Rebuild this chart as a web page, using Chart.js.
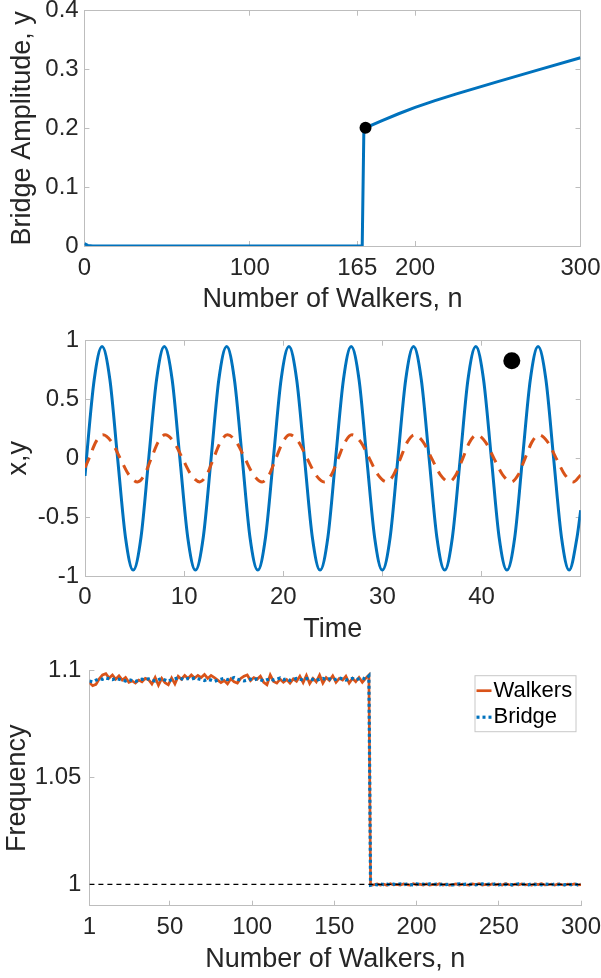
<!DOCTYPE html>
<html>
<head>
<meta charset="utf-8">
<script src="https://cdn.jsdelivr.net/npm/chart.js@4.4.0/dist/chart.umd.min.js"></script>
<style>
  body { margin: 0; background: #fff; }
  canvas { position: absolute; left: 0; }
</style>
</head>
<body>
<canvas id="amplitude" width="601" height="326" style="top:0px"></canvas>
<canvas id="timeseries" width="601" height="326" style="top:326px"></canvas>
<canvas id="frequency" width="601" height="326" style="top:652px"></canvas>
<script>
// ---- top panel: bridge amplitude vs number of walkers ----
const ampN = [0, 2, 5, 168, 169, 170, 180, 190, 200, 212, 225, 250, 275, 300]
const ampY = [0.004, 0.001, 0, 0, 0.198, 0.201, 0.2132, 0.2248, 0.2356, 0.2470, 0.2585, 0.2795, 0.2998, 0.320]
const ampMarkN = [170]
const ampMarkY = [0.201]
const ampTicksX = [0, 100, 165, 200, 300]
const ampTicksY = [0, 0.1, 0.2, 0.3, 0.4]

// ---- middle panel: x (solid) and y (dashed) against time ----
const xTime = [0, 0.15, 0.93, 1.72, 2.51, 3.29, 4.08, 4.86, 5.65, 6.43, 7.22,
  8.00, 8.79, 9.57, 10.36, 11.14, 11.93, 12.72, 13.50,
  14.29, 15.07, 15.86, 16.64, 17.43, 18.21, 19.00, 19.78,
  20.57, 21.35, 22.14, 22.93, 23.71, 24.50, 25.28, 26.07,
  26.85, 27.64, 28.42, 29.21, 29.99, 30.78, 31.56, 32.35,
  33.14, 33.92, 34.71, 35.49, 36.28, 37.06, 37.85, 38.63,
  39.42, 40.20, 40.99, 41.77, 42.56, 43.35, 44.13, 44.92,
  45.70, 46.49, 47.27, 48.06, 48.84, 49.63, 50]
const xVals = [-0.15, 0, 0.67, 0.95, 0.67, 0, -0.67, -0.95, -0.67, 0, 0.67,
  0.95, 0.67, 0, -0.67, -0.95, -0.67, 0, 0.67,
  0.95, 0.67, 0, -0.67, -0.95, -0.67, 0, 0.67,
  0.95, 0.67, 0, -0.67, -0.95, -0.67, 0, 0.67,
  0.95, 0.67, 0, -0.67, -0.95, -0.67, 0, 0.67,
  0.95, 0.67, 0, -0.67, -0.95, -0.67, 0, 0.67,
  0.95, 0.67, 0, -0.67, -0.95, -0.67, 0, 0.67,
  0.95, 0.67, 0, -0.67, -0.95, -0.67, -0.44]
const yTime = [0, 0.41, 1.10,
  1.80, 2.68, 3.55, 4.43, 5.30, 6.00, 6.69, 7.39,
  8.08, 8.96, 9.83, 10.71, 11.58, 12.28, 12.97, 13.67,
  14.37, 15.25, 16.12, 17.00, 17.87, 18.57, 19.26, 19.96,
  20.65, 21.53, 22.40, 23.28, 24.15, 24.85, 25.54, 26.24,
  26.93, 27.81, 28.68, 29.56, 30.43, 31.13, 31.82, 32.52,
  33.22, 34.10, 34.97, 35.85, 36.72, 37.42, 38.11, 38.81,
  39.50, 40.38, 41.25, 42.13, 43.00, 43.70, 44.39, 45.09,
  45.78, 46.66, 47.53, 48.41, 49.28, 50]
const yVals = [-0.08, 0, 0.14,
  0.20, 0.14, 0, -0.14, -0.20, -0.14, 0, 0.14,
  0.20, 0.14, 0, -0.14, -0.20, -0.14, 0, 0.14,
  0.20, 0.14, 0, -0.14, -0.20, -0.14, 0, 0.14,
  0.20, 0.14, 0, -0.14, -0.20, -0.14, 0, 0.14,
  0.20, 0.14, 0, -0.14, -0.20, -0.14, 0, 0.14,
  0.20, 0.14, 0, -0.14, -0.20, -0.14, 0, 0.14,
  0.20, 0.14, 0, -0.14, -0.20, -0.14, 0, 0.14,
  0.20, 0.14, 0, -0.14, -0.20, -0.14]
const tsMarkT = [43.05]
const tsMarkV = [0.83]
const tsTicksX = [0, 10, 20, 30, 40]
const tsTicksY = [-1, -0.5, 0, 0.5, 1]

// ---- bottom panel: frequency of walkers and bridge ----
const nHigh = [1, 3, 5, 7, 9, 11, 13, 15, 17, 19,
  21, 23, 25, 27, 29, 31, 33, 35, 37, 39,
  41, 43, 45, 47, 49, 51, 53, 55, 57, 59,
  61, 63, 65, 67, 69, 71, 73, 75, 77, 79,
  81, 83, 85, 87, 89, 91, 93, 95, 97, 99,
  101, 103, 105, 107, 109, 111, 113, 115, 117, 119,
  121, 123, 125, 127, 129, 131, 133, 135, 137, 139,
  141, 143, 145, 147, 149, 151, 153, 155, 157, 159,
  161, 163, 165, 167, 169, 171]
const nLow = [172, 174, 176, 178, 180, 182, 184, 186, 188, 190,
  192, 194, 196, 198, 200, 202, 204, 206, 208, 210,
  212, 214, 216, 218, 220, 222, 224, 226, 228, 230,
  232, 234, 236, 238, 240, 242, 244, 246, 248, 250,
  252, 254, 256, 258, 260, 262, 264, 266, 268, 270,
  272, 274, 276, 278, 280, 282, 284, 286, 288, 290,
  292, 294, 296, 298, 300]
const walkHigh = [1.0944, 1.0930, 1.0936, 1.0962, 1.0980, 1.0986, 1.0966, 1.0980, 1.0960, 1.0976,
  1.0956, 1.0968, 1.0946, 1.0952, 1.0942, 1.0956, 1.0948, 1.0964, 1.0958, 1.0938,
  1.0968, 1.0932, 1.0964, 1.0944, 1.0934, 1.0966, 1.0938, 1.0974, 1.0960, 1.0978,
  1.0964, 1.0980, 1.0966, 1.0978, 1.0968, 1.0982, 1.0964, 1.0978, 1.0968, 1.0956,
  1.0944, 1.0954, 1.0938, 1.0962, 1.0948, 1.0942, 1.0964, 1.0974, 1.0980, 1.0954,
  1.0968, 1.0960, 1.0974, 1.0946, 1.0934, 1.0980, 1.0950, 1.0942, 1.0960, 1.0946,
  1.0958, 1.0942, 1.0962, 1.0950, 1.0974, 1.0944, 1.0978, 1.0940, 1.0964, 1.0948,
  1.0980, 1.0942, 1.0968, 1.0954, 1.0976, 1.0946, 1.0964, 1.0956, 1.0974, 1.0942,
  1.0964, 1.0948, 1.0968, 1.0946, 1.0964, 1.0980]
const walkLow = [0.9995, 0.9998, 1.0002, 0.9997, 1.0001, 0.9996, 1.0003, 0.9998, 1.0000, 0.9996,
  1.0002, 0.9999, 0.9996, 1.0003, 0.9998, 1.0001, 0.9997, 1.0002, 0.9996, 1.0000,
  0.9998, 1.0003, 0.9997, 1.0001, 0.9996, 0.9999, 1.0002, 0.9997, 1.0001, 0.9998,
  0.9996, 1.0002, 0.9999, 1.0003, 0.9997, 1.0000, 0.9996, 1.0002, 0.9998, 1.0001,
  0.9997, 1.0003, 0.9999, 0.9996, 1.0001, 0.9998, 1.0002, 0.9997, 1.0000, 0.9996,
  1.0002, 0.9999, 1.0003, 0.9997, 0.9998, 1.0001, 0.9996, 1.0002, 0.9999, 0.9997,
  1.0001, 0.9998, 1.0002, 0.9997, 0.9999]
const bridgeHigh = [1.0952, 1.0948, 1.0956, 1.0962, 1.0960, 1.0966, 1.0962, 1.0958, 1.0964, 1.0960,
  1.0956, 1.0952, 1.0958, 1.0954, 1.0950, 1.0956, 1.0960, 1.0958, 1.0962, 1.0956,
  1.0952, 1.0958, 1.0964, 1.0956, 1.0950, 1.0958, 1.0962, 1.0966, 1.0962, 1.0958,
  1.0964, 1.0960, 1.0966, 1.0962, 1.0958, 1.0954, 1.0960, 1.0956, 1.0950, 1.0956,
  1.0960, 1.0964, 1.0958, 1.0962, 1.0968, 1.0960, 1.0956, 1.0952, 1.0956, 1.0960,
  1.0956, 1.0962, 1.0958, 1.0952, 1.0958, 1.0962, 1.0956, 1.0960, 1.0966, 1.0958,
  1.0962, 1.0954, 1.0958, 1.0964, 1.0960, 1.0956, 1.0962, 1.0966, 1.0958, 1.0954,
  1.0960, 1.0964, 1.0958, 1.0962, 1.0956, 1.0960, 1.0966, 1.0962, 1.0956, 1.0960,
  1.0964, 1.0958, 1.0962, 1.0966, 1.0960, 1.0976]
const bridgeLow = [0.9996, 1.0000, 0.9998, 1.0002, 0.9999, 1.0001, 0.9997, 1.0001, 0.9998, 1.0002,
  0.9998, 1.0001, 0.9999, 0.9997, 1.0002, 0.9999, 1.0001, 0.9998, 1.0002, 0.9999,
  1.0001, 0.9998, 1.0002, 0.9999, 1.0001, 0.9997, 1.0000, 1.0002, 0.9998, 1.0001,
  0.9999, 1.0002, 0.9998, 1.0000, 1.0002, 0.9998, 1.0001, 0.9999, 1.0002, 0.9998,
  1.0001, 0.9999, 1.0002, 0.9998, 1.0000, 1.0002, 0.9999, 1.0001, 0.9998, 1.0002,
  0.9999, 1.0001, 0.9998, 1.0002, 1.0000, 0.9998, 1.0001, 0.9999, 1.0002, 0.9998,
  1.0001, 0.9999, 1.0002, 0.9998, 1.0001]
const refN = [1, 300]
const refF = [1, 1]
const freqTicksX = [1, 50, 100, 150, 200, 250, 300]
const freqTicksY = [1, 1.05, 1.1]

const FONT = "'Liberation Sans', Arial, Helvetica, sans-serif"
const TXT = '#262626'
const AXIS = '#bdbdbd'
const BLUE = '#0072bd'
const ORANGE = '#d95319'

Chart.defaults.font.family = FONT
Chart.defaults.color = TXT

function pts(xs, ys) {
  return xs.map((x, i) => ({x: x, y: ys[i]}))
}

function fixTicks(list) {
  return function (scale) { scale.ticks = list.map(v => ({value: v})) }
}

// set the box size of an axis and drop chart.js's label overflow padding
function fitTo(w, h) {
  return function (scale) {
    if (w !== null) scale.width = w
    if (h !== null) scale.height = h
    scale.paddingLeft = scale.paddingRight = scale.paddingTop = scale.paddingBottom = 0
  }
}

function makeScales(p) {
  const grid = {drawOnChartArea: false, drawTicks: true, tickLength: -5, color: AXIS, lineWidth: 1}
  const border = {color: AXIS, width: 1}
  const tickFont = {size: 24, lineHeight: 1}
  const titleFont = {size: 27, lineHeight: 1}
  const label = v => String(v)
  const s = {
    x: {
      type: 'linear', position: 'bottom', min: p.xMin, max: p.xMax,
      afterBuildTicks: fixTicks(p.xTicks),
      afterFit: fitTo(null, p.xHeight),
      grid: grid, border: border,
      ticks: {font: tickFont, color: TXT, padding: p.xTickPad, maxRotation: 0, autoSkip: false, callback: label},
      title: {display: true, text: p.xTitle, font: titleFont, color: TXT, padding: {top: 0, bottom: p.xTitlePad}}
    },
    y: {
      type: 'linear', position: 'left', min: p.yMin, max: p.yMax,
      afterBuildTicks: fixTicks(p.yTicks),
      afterFit: fitTo(p.yWidth, null),
      grid: grid, border: border,
      ticks: {font: tickFont, color: TXT, padding: p.yTickPad, autoSkip: false, callback: label},
      title: {display: true, text: p.yTitle, font: titleFont, color: TXT, padding: {top: p.yTitlePad, bottom: 0}}
    }
  }
  if (p.box) {
    s.x2 = {
      type: 'linear', position: 'top', min: p.xMin, max: p.xMax,
      afterBuildTicks: fixTicks(p.xTicks), afterFit: fitTo(null, 0),
      grid: grid, border: border, ticks: {display: false}
    }
    s.y2 = {
      type: 'linear', position: 'right', min: p.yMin, max: p.yMax,
      afterBuildTicks: fixTicks(p.yTicks), afterFit: fitTo(0, null),
      grid: grid, border: border, ticks: {display: false}
    }
  }
  return s
}

const common = {
  responsive: false,
  animation: false,
  events: [],
  plugins: {legend: {display: false}, tooltip: {enabled: false}}
}

// legend box drawn inside the bottom panel, matching the dataset styles
const boxLegend = {
  id: 'boxLegend',
  afterDatasetsDraw(chart) {
    const ctx = chart.ctx
    const area = chart.chartArea
    const items = chart.data.datasets.filter(d => d.inLegend)
    const w = 101, h = 56
    const x0 = area.right - 5.5 - w
    const y0 = area.top + 4.5
    ctx.save()
    ctx.fillStyle = '#fff'
    ctx.fillRect(x0, y0, w, h)
    ctx.strokeStyle = '#c8c8c8'
    ctx.lineWidth = 1
    ctx.strokeRect(x0 + 0.5, y0 + 0.5, w, h)
    ctx.font = '22px ' + FONT
    ctx.textBaseline = 'middle'
    items.forEach((d, i) => {
      const y = y0 + 15.5 + i * 26.5
      ctx.strokeStyle = d.borderColor
      ctx.lineWidth = d.borderWidth
      ctx.setLineDash(d.borderDash || [])
      ctx.beginPath()
      ctx.moveTo(x0 + 2, y)
      ctx.lineTo(x0 + 17, y)
      ctx.stroke()
      ctx.setLineDash([])
      ctx.fillStyle = '#000'
      ctx.fillText(d.label, x0 + 19, y)
    })
    ctx.restore()
  }
}

new Chart(document.getElementById('amplitude'), {
  type: 'line',
  data: {
    datasets: [
      {data: pts(ampMarkN, ampMarkY), showLine: false, pointRadius: 6, pointBackgroundColor: '#000', pointBorderWidth: 0, order: 0},
      {data: pts(ampN, ampY), borderColor: BLUE, borderWidth: 3, pointRadius: 0, tension: 0, order: 1}
    ]
  },
  options: Object.assign({}, common, {
    layout: {autoPadding: false, padding: {left: 0, right: 20.5, top: 10.7, bottom: 0}},
    scales: makeScales({
      xMin: 0, xMax: 300, xTicks: ampTicksX, xHeight: 80, xTickPad: 15.7, xTitle: 'Number of Walkers, n', xTitlePad: 12.5,
      yMin: 0, yMax: 0.4, yTicks: ampTicksY, yWidth: 84.4, yTickPad: 10.7, yTitle: 'Bridge Amplitude, y', yTitlePad: 9.5,
      box: true
    })
  })
})

new Chart(document.getElementById('timeseries'), {
  type: 'line',
  data: {
    datasets: [
      {data: pts(tsMarkT, tsMarkV), showLine: false, pointRadius: 8.5, pointBackgroundColor: '#000', pointBorderWidth: 0, order: 0},
      {data: pts(yTime, yVals), borderColor: ORANGE, borderWidth: 3, borderDash: [11, 8], pointRadius: 0, cubicInterpolationMode: 'monotone', order: 1},
      {data: pts(xTime, xVals), borderColor: BLUE, borderWidth: 3, pointRadius: 0, cubicInterpolationMode: 'monotone', order: 2}
    ]
  },
  options: Object.assign({}, common, {
    layout: {autoPadding: false, padding: {left: 0, right: 20.3, top: 14.7, bottom: 0}},
    scales: makeScales({
      xMin: 0, xMax: 50, xTicks: tsTicksX, xHeight: 76, xTickPad: 14, xTitle: 'Time', xTitlePad: 8.5,
      yMin: -1, yMax: 1, yTicks: tsTicksY, yWidth: 85, yTickPad: 11, yTitle: 'x,y', yTitlePad: 5.5,
      box: true
    })
  })
})

new Chart(document.getElementById('frequency'), {
  type: 'line',
  data: {
    datasets: [
      {label: 'Walkers', inLegend: true, data: pts(nHigh.concat(nLow), walkHigh.concat(walkLow)), borderColor: ORANGE, borderWidth: 2.7, pointRadius: 0, tension: 0, order: 2},
      {label: 'Bridge', inLegend: true, data: pts(nHigh.concat(nLow), bridgeHigh.concat(bridgeLow)), borderColor: BLUE, borderWidth: 3.2, borderDash: [3, 3], pointRadius: 0, tension: 0, order: 1},
      {data: pts(refN, refF), borderColor: '#000', borderWidth: 1.3, borderDash: [5, 4], pointRadius: 0, order: 0}
    ]
  },
  options: Object.assign({}, common, {
    layout: {autoPadding: false, padding: {left: 0, right: 20, top: 18.7, bottom: 0}},
    scales: makeScales({
      xMin: 1, xMax: 300, xTicks: freqTicksX, xHeight: 72.3, xTickPad: 14.8, xTitle: 'Number of Walkers, n', xTitlePad: 4.5,
      yMin: 0.99, yMax: 1.1, yTicks: freqTicksY, yWidth: 89.4, yTickPad: 13, yTitle: 'Frequency', yTitlePad: 4,
      box: false
    })
  }),
  plugins: [boxLegend]
})
</script>
</body>
</html>
